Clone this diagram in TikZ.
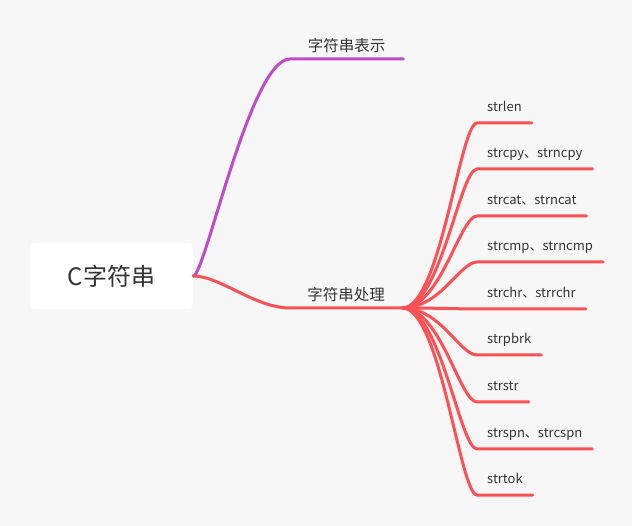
\documentclass[tikz,border=0pt]{standalone}
\usepackage{fontspec}
\setmainfont{Noto Sans CJK SC}
\usetikzlibrary{positioning}
\definecolor{bgcol}{HTML}{F7F7F7}
\definecolor{purplebr}{HTML}{BF4BC8}
\definecolor{redbr}{HTML}{FF5055}
\definecolor{txtcol}{HTML}{333333}

\begin{document}
\begin{tikzpicture}[x=1pt, y=-1pt, line cap=round,
    every node/.style={text=txtcol},
    topic/.style={inner ysep=7pt, text depth=0pt, minimum height=0pt, anchor=south west, font=\fontsize{15.5}{16}\selectfont},
    leaf/.style={inner xsep=10pt, inner ysep=11pt, text depth=0pt, anchor=south west, font=\fontsize{13}{14}\selectfont},
    purplebranch/.style={draw=purplebr, line width=3pt},
    redbranch/.style={draw=redbr, line width=3pt}]
    \fill[bgcol] (0,0) rectangle (632,526);
    \useasboundingbox (0,0) rectangle (632,526);

    \node[fill=white, rounded corners=5pt, minimum width=163pt, minimum height=66pt, font=\fontsize{24}{26}\selectfont] (root) at (111.5,276) {C字符串};

    \node[topic, minimum width=113pt, yshift=2pt] (repr) at (290,61) {字符串表示};
    \node[topic, minimum width=112pt] (proc) at (290,308) {字符串处理};

    \draw[purplebranch] (root.east) .. controls +(12,0) and +(-40,0) .. (repr.south west) -- (repr.south east |- repr.south west);
    \draw[redbranch] (root.east) .. controls +(27,0) and +(-35,0) .. (proc.south west) -- (proc.south east);

    \foreach \nm/\yy/\txt in {strlen/123/strlen, strcpy/169/strcpy、strncpy, strcat/216/strcat、strncat,
        strcmp/262/strcmp、strncmp, strchr/309/strchr、strrchr, strpbrk/355/strpbrk,
        strstr/402/strstr, strspn/449/strspn、strcspn, strtok/495/strtok} {
        \node[leaf] (\nm) at (477,\yy) {\txt};
        \draw[redbranch] (proc.south east) .. controls +(38,0) and +(-17,0) .. (\nm.south west) -- (\nm.south east);
    }
\end{tikzpicture}
\end{document}
